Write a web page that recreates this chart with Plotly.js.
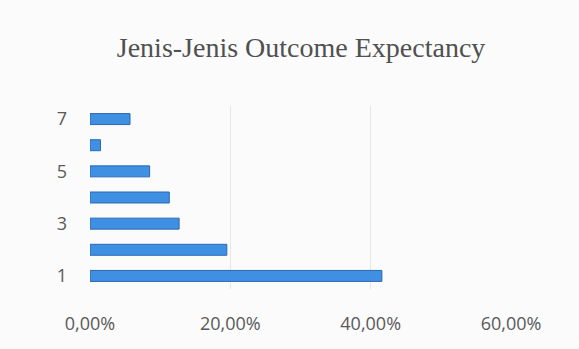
<!DOCTYPE html>
<html>
<head>
<meta charset="utf-8">
<script src="https://cdn.plot.ly/plotly-3.0.1.min.js"></script>
<style>html,body{margin:0;padding:0;background:#fbfbfb;}#chart{width:579px;height:349px;}</style>
</head>
<body>
<div id="chart"></div>
<script>
const categories = [1, 2, 3, 4, 5, 6, 7];
const values = [0.416, 0.195, 0.127, 0.113, 0.085, 0.015, 0.057];
const yTickLabels = ['1', '3', '5', '7'];
const yTickVals = [1, 3, 5, 7];
const xTickVals = [0, 0.2, 0.4, 0.6];

const trace = {
  type: 'bar',
  orientation: 'h',
  y: categories,
  x: values,
  marker: {color: '#3f8fe2', line: {color: '#2b69b5', width: 1}},
  hoverinfo: 'none'
};

const layout = {
  width: 579, height: 349,
  paper_bgcolor: '#fbfbfb', plot_bgcolor: '#fbfbfb',
  margin: {l: 90, r: 68, t: 106, b: 60},
  separators: ',.',
  bargap: 0.58,
  showlegend: false,
  title: {text: 'Jenis-Jenis Outcome Expectancy', x: 0.52, xanchor: 'center', y: 0.865, yanchor: 'middle',
    font: {family: 'Liberation Serif, Times New Roman, serif', size: 28, color: '#505050'}},
  xaxis: {range: [0, 0.6], tickvals: xTickVals, tickformat: '.2%', showgrid: true, gridcolor: '#e6e6e6',
    zeroline: false, showline: false, ticks: '', ticklen: 0, ticklabelstandoff: 22,
    tickfont: {family: 'Open Sans, Noto Sans, sans-serif', size: 18, color: '#595959'}},
  yaxis: {range: [0.5, 7.5], tickvals: yTickVals, ticktext: yTickLabels, showgrid: false, zeroline: false,
    showline: false, ticks: '', ticklen: 0, ticklabelstandoff: 22,
    tickfont: {family: 'Open Sans, Noto Sans, sans-serif', size: 18, color: '#595959'}}
};

Plotly.newPlot('chart', [trace], layout, {staticPlot: true, displayModeBar: false});
</script>
</body>
</html>
